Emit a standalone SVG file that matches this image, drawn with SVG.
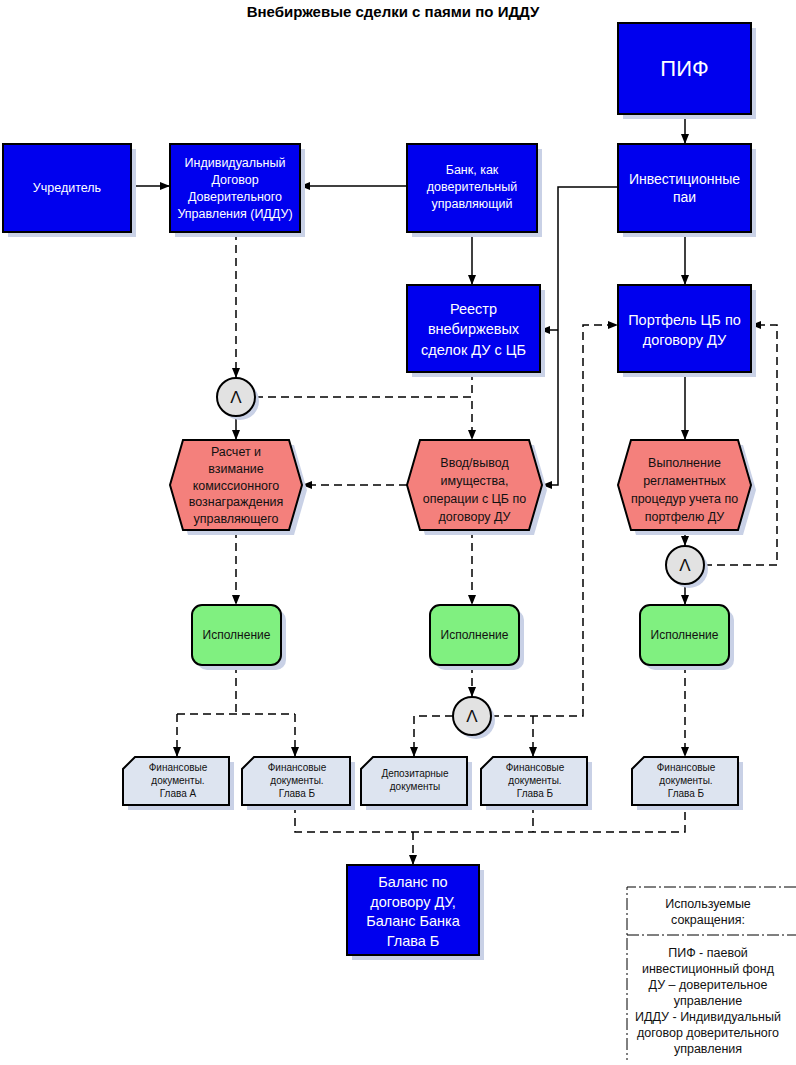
<svg xmlns="http://www.w3.org/2000/svg" width="796" height="1065" viewBox="0 0 796 1065">
<defs>
<marker id="ar" markerUnits="userSpaceOnUse" markerWidth="10" markerHeight="8" refX="10" refY="4" orient="auto">
<path d="M0,0 L10,4 L0,8 z" fill="#000"/>
</marker>
<style>
text{font-family:"Liberation Sans",Arial,sans-serif;text-anchor:middle}
.blue{fill:#0000ee;stroke:#000;stroke-width:2}
.sh{fill:#c9d1e6;stroke:none}
.hex{fill:#f4807c;stroke:#000;stroke-width:2}
.grn{fill:#80f080;stroke:#000;stroke-width:2}
.doc{fill:#dde4f0;stroke:#000;stroke-width:2}
.circ{fill:#e2e2e2;stroke:#000;stroke-width:2}
.wt{fill:#fff}
.bt{fill:#111}
.s{fill:none;stroke:#000;stroke-width:1.5}
.d{fill:none;stroke:#000;stroke-width:1.5;stroke-dasharray:8,5}
.a{marker-end:url(#ar)}
.leg{fill:none;stroke:#000;stroke-width:1;stroke-dasharray:12,3,2,3}
</style>
</defs>
<rect width="796" height="1065" fill="#fff"/>
<text x="393" y="17" font-size="15" font-weight="bold" fill="#000">Внебиржевые сделки с паями по ИДДУ</text>

<g id="connectors">
<path class="s a" d="M685,114 V144"/>
<path class="s a" d="M131,186 H170"/>
<path class="s a" d="M407,186 H300"/>
<path class="s a" d="M618,187 H558 V485 H542"/>
<path class="s a" d="M558,330 H540"/>
<path class="s a" d="M472,232 V285"/>
<path class="s a" d="M685,232 V285"/>
<path class="d a" d="M236,232 V378"/>
<path class="d a" d="M255,397 H472 V440"/>
<path class="d" d="M472,372 V397"/>
<path class="s a" d="M236,416 V440"/>
<path class="d a" d="M407,485 H302"/>
<path class="s a" d="M685,372 V440"/>
<path class="s a" d="M685,530 V546"/>
<path class="d a" d="M704,565 H777 V325 H751"/>
<path class="s a" d="M685,584 V605"/>
<path class="d a" d="M236,530 V605"/>
<path class="d a" d="M472,530 V605"/>
<path class="d" d="M236,665 V714 M177,714 H295"/>
<path class="d a" d="M177,714 V757"/>
<path class="d a" d="M295,714 V757"/>
<path class="d a" d="M472,665 V697"/>
<path class="d a" d="M453,716 H414 V757"/>
<path class="d a" d="M491,716 H583 V325 H618"/>
<path class="d a" d="M533,716 V757"/>
<path class="d a" d="M685,665 V757"/>
<path class="d" d="M295,805 V832 H685 V805 M533,805 V832"/>
<path class="d a" d="M413,832 V865"/>
</g>

<g id="pif">
<rect class="sh" x="623" y="28" width="133" height="91"/>
<rect class="blue" x="618" y="23" width="133" height="91"/>
<text class="wt" x="684.5" y="76" font-size="22">ПИФ</text>
</g>

<g id="uchreditel">
<rect class="sh" x="8" y="149" width="128" height="88"/>
<rect class="blue" x="3" y="144" width="128" height="88"/>
<text class="wt" x="67" y="192" font-size="12.5">Учредитель</text>
</g>

<g id="iddu">
<rect class="sh" x="175" y="149" width="130" height="88"/>
<rect class="blue" x="170" y="144" width="130" height="88"/>
<text class="wt" font-size="12.5"><tspan x="235" y="167">Индивидуальный</tspan><tspan x="235" y="184">Договор</tspan><tspan x="235" y="201">Доверительного</tspan><tspan x="235" y="218">Управления (ИДДУ)</tspan></text>
</g>

<g id="bank">
<rect class="sh" x="412" y="149" width="130" height="88"/>
<rect class="blue" x="407" y="144" width="130" height="88"/>
<text class="wt" font-size="12.5"><tspan x="472" y="174">Банк, как</tspan><tspan x="472" y="191">доверительный</tspan><tspan x="472" y="208">управляющий</tspan></text>
</g>

<g id="pai">
<rect class="sh" x="623" y="149" width="133" height="88"/>
<rect class="blue" x="618" y="144" width="133" height="88"/>
<text class="wt" font-size="14"><tspan x="684.5" y="184">Инвестиционные</tspan><tspan x="684.5" y="202">паи</tspan></text>
</g>

<g id="reestr">
<rect class="sh" x="412" y="290" width="133" height="87"/>
<rect class="blue" x="407" y="285" width="133" height="87"/>
<text class="wt" font-size="14.5"><tspan x="473.5" y="314">Реестр</tspan><tspan x="473.5" y="334">внебиржевых</tspan><tspan x="473.5" y="355">сделок ДУ с ЦБ</tspan></text>
</g>

<g id="portfel">
<rect class="sh" x="623" y="290" width="133" height="87"/>
<rect class="blue" x="618" y="285" width="133" height="87"/>
<text class="wt" font-size="14.5"><tspan x="684.5" y="325">Портфель ЦБ по</tspan><tspan x="684.5" y="345">договору ДУ</tspan></text>
</g>

<g id="and1">
<circle class="sh" cx="240" cy="401" r="19"/>
<circle class="circ" cx="236" cy="397" r="19"/>
<text class="bt" x="236" y="403" font-size="17">Λ</text>
</g>

<g id="raschet">
<polygon class="sh" points="188,445 294,445 307,490 294,535 188,535 175,490"/>
<polygon class="hex" points="183,440 289,440 302,485 289,530 183,530 170,485"/>
<text class="bt" font-size="12.5"><tspan x="236" y="456">Расчет и</tspan><tspan x="236" y="473">взимание</tspan><tspan x="236" y="490">комиссионного</tspan><tspan x="236" y="506">вознаграждения</tspan><tspan x="236" y="523">управляющего</tspan></text>
</g>

<g id="vvod">
<polygon class="sh" points="425,445 534,445 547,490 534,535 425,535 412,490"/>
<polygon class="hex" points="420,440 529,440 542,485 529,530 420,530 407,485"/>
<text class="bt" font-size="12.5"><tspan x="474.5" y="467">Ввод/вывод</tspan><tspan x="474.5" y="485">имущества,</tspan><tspan x="474.5" y="503">операции с ЦБ по</tspan><tspan x="474.5" y="521">договору ДУ</tspan></text>
</g>

<g id="vypolnenie">
<polygon class="sh" points="636,445 743,445 756,490 743,535 636,535 623,490"/>
<polygon class="hex" points="631,440 738,440 751,485 738,530 631,530 618,485"/>
<text class="bt" font-size="12.5"><tspan x="684.5" y="467">Выполнение</tspan><tspan x="684.5" y="485">регламентных</tspan><tspan x="684.5" y="503">процедур учета по</tspan><tspan x="684.5" y="521">портфелю ДУ</tspan></text>
</g>

<g id="and3">
<circle class="sh" cx="689" cy="569" r="19"/>
<circle class="circ" cx="685" cy="565" r="19"/>
<text class="bt" x="685" y="571" font-size="17">Λ</text>
</g>

<g id="isp1">
<rect class="sh" x="197" y="610" width="89" height="60" rx="10"/>
<rect class="grn" x="192" y="605" width="89" height="60" rx="10"/>
<text class="bt" x="236.5" y="639" font-size="12">Исполнение</text>
</g>

<g id="isp2">
<rect class="sh" x="435" y="610" width="89" height="60" rx="10"/>
<rect class="grn" x="430" y="605" width="89" height="60" rx="10"/>
<text class="bt" x="474.5" y="639" font-size="12">Исполнение</text>
</g>

<g id="isp3">
<rect class="sh" x="645" y="610" width="89" height="60" rx="10"/>
<rect class="grn" x="640" y="605" width="89" height="60" rx="10"/>
<text class="bt" x="684.5" y="639" font-size="12">Исполнение</text>
</g>

<g id="and2">
<circle class="sh" cx="476" cy="720" r="19"/>
<circle class="circ" cx="472" cy="716" r="19"/>
<text class="bt" x="472" y="722" font-size="17">Λ</text>
</g>

<g id="doc1">
<polygon class="sh" points="140,762 234,762 234,810 128,810 128,774"/>
<polygon class="doc" points="135,757 229,757 229,805 123,805 123,769"/>
<text class="bt" font-size="10"><tspan x="178" y="771">Финансовые</tspan><tspan x="178" y="784">документы.</tspan><tspan x="178" y="797">Глава А</tspan></text>
</g>

<g id="doc2">
<polygon class="sh" points="259,762 355,762 355,810 247,810 247,774"/>
<polygon class="doc" points="254,757 350,757 350,805 242,805 242,769"/>
<text class="bt" font-size="10"><tspan x="297" y="771">Финансовые</tspan><tspan x="297" y="784">документы.</tspan><tspan x="297" y="797">Глава Б</tspan></text>
</g>

<g id="doc3">
<polygon class="sh" points="378,762 472,762 472,810 366,810 366,774"/>
<polygon class="doc" points="373,757 467,757 467,805 361,805 361,769"/>
<text class="bt" font-size="10"><tspan x="415" y="777">Депозитарные</tspan><tspan x="415" y="790">документы</tspan></text>
</g>

<g id="doc4">
<polygon class="sh" points="498,762 592,762 592,810 486,810 486,774"/>
<polygon class="doc" points="493,757 587,757 587,805 481,805 481,769"/>
<text class="bt" font-size="10"><tspan x="535" y="771">Финансовые</tspan><tspan x="535" y="784">документы.</tspan><tspan x="535" y="797">Глава Б</tspan></text>
</g>

<g id="doc5">
<polygon class="sh" points="649,762 743,762 743,810 637,810 637,774"/>
<polygon class="doc" points="644,757 738,757 738,805 632,805 632,769"/>
<text class="bt" font-size="10"><tspan x="686" y="771">Финансовые</tspan><tspan x="686" y="784">документы.</tspan><tspan x="686" y="797">Глава Б</tspan></text>
</g>

<g id="balans">
<rect class="sh" x="352" y="870" width="132" height="90"/>
<rect class="blue" x="347" y="865" width="132" height="90"/>
<text class="wt" font-size="14.5"><tspan x="413" y="887">Баланс по</tspan><tspan x="413" y="907">договору ДУ,</tspan><tspan x="413" y="926">Баланс Банка</tspan><tspan x="413" y="946">Глава Б</tspan></text>
</g>

<g id="legend">
<path class="leg" d="M796,887 H627 V1060 M627,935 H796"/>
<text class="bt" font-size="12.5"><tspan x="708" y="908">Используемые</tspan><tspan x="708" y="924">сокращения:</tspan></text>
<text class="bt" font-size="12.5"><tspan x="708" y="957">ПИФ - паевой</tspan><tspan x="708" y="973">инвестиционный фонд</tspan><tspan x="708" y="989">ДУ – доверительное</tspan><tspan x="708" y="1005">управление</tspan><tspan x="708" y="1021">ИДДУ - Индивидуальный</tspan><tspan x="708" y="1037">договор доверительного</tspan><tspan x="708" y="1053">управления</tspan></text>
</g>
</svg>
